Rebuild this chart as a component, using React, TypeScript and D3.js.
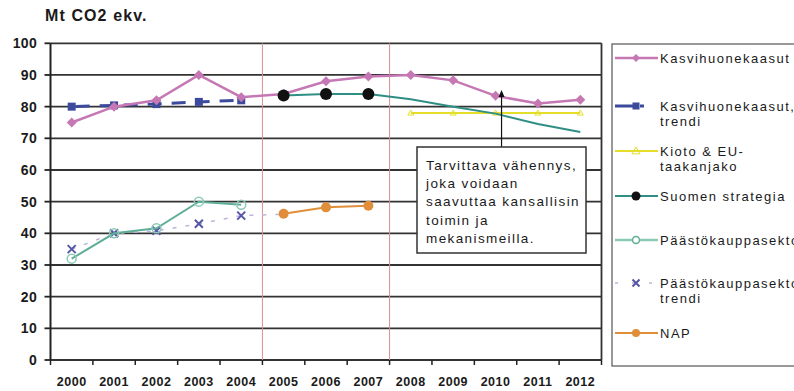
import React from "react";
import * as d3 from "d3";

// Emission data, Mt CO2 ekv.
const years = ["2000", "2001", "2002", "2003", "2004", "2005", "2006", "2007", "2008", "2009", "2010", "2011", "2012"];
const yTicks = [0, 10, 20, 30, 40, 50, 60, 70, 80, 90, 100];

const kasvihuoneYears = years;
const kasvihuoneValues = [75, 80, 82, 90, 83, 84, 88, 89.5, 90, 88.3, 83.4, 81, 82.2];

const trendiYears = ["2000", "2001", "2002", "2003", "2004"];
const trendiValues = [80, 80.4, 80.8, 81.5, 82];

const kiotoYears = ["2008", "2009", "2010", "2011", "2012"];
const kiotoValues = [78, 78, 78, 78, 78];

const strategiaYears = ["2005", "2006", "2007", "2008", "2009", "2010", "2011", "2012"];
const strategiaValues = [83.5, 84, 84, 82.3, 80, 77.8, 74.5, 72];
const strategiaMarkerYears = ["2005", "2006", "2007"];

const paastoYears = ["2000", "2001", "2002", "2003", "2004"];
const paastoValues = [32, 40, 41.6, 50, 49];

const paastoTrendiYears = ["2000", "2001", "2002", "2003", "2004", "2005"];
const paastoTrendiValues = [35, 40, 40.8, 43, 45.6, 46];

const napYears = ["2005", "2006", "2007"];
const napValues = [46.2, 48.2, 48.7];

const periodBoundaries = ["2005", "2008"];
const reductionYear = "2010";

const annotationLines = [
  "Tarvittava vähennys,",
  "joka voidaan",
  "saavuttaa kansallisin",
  "toimin ja",
  "mekanismeilla.",
];

const COLORS = {
  kasvihuone: "#c678b4",
  trendi: "#3b4a9c",
  kioto: "#e4de2a",
  strategia: "#2f8f84",
  strategiaDot: "#111111",
  paasto: "#5fae98",
  paastoMarker: "#8ccab6",
  paastoTrendi: "#bdb4dc",
  paastoTrendiMarker: "#5656a6",
  nap: "#e08e3a",
  grid: "#333333",
  period: "#d89090",
};

const FONT = "'Liberation Sans', Arial, sans-serif";

const W = 794;
const H = 391;
const plot = { left: 50.5, right: 601.5, top: 43.3, bottom: 360 };

const x = d3.scaleBand<string>().domain(years).range([plot.left, plot.right]).padding(0);
const y = d3.scaleLinear().domain([0, 100]).range([plot.bottom, plot.top]);
const cx = (yr: string) => (x(yr) as number) + x.bandwidth() / 2;

const lineGen = d3
  .line<[string, number]>()
  .x((d) => cx(d[0]))
  .y((d) => y(d[1]));

const zip = (ys: string[], vs: number[]) => ys.map((yr, i) => [yr, vs[i]] as [string, number]);

function Diamond({ x0, y0, s, fill }: { x0: number; y0: number; s: number; fill: string }) {
  return <path d={`M${x0},${y0 - s}L${x0 + s},${y0}L${x0},${y0 + s}L${x0 - s},${y0}Z`} fill={fill} />;
}

function Cross({ x0, y0, s, stroke }: { x0: number; y0: number; s: number; stroke: string }) {
  return (
    <path
      d={`M${x0 - s},${y0 - s}L${x0 + s},${y0 + s}M${x0 + s},${y0 - s}L${x0 - s},${y0 + s}`}
      stroke={stroke}
      strokeWidth={2}
    />
  );
}

function Triangle({ x0, y0, s, stroke }: { x0: number; y0: number; s: number; stroke: string }) {
  return (
    <path
      d={`M${x0},${y0 - s}L${x0 + s},${y0 + s * 0.7}L${x0 - s},${y0 + s * 0.7}Z`}
      fill="none"
      stroke={stroke}
      strokeWidth={1}
    />
  );
}

type LegendItem = { lines: string[]; y: number; kind: string };
const legendItems: LegendItem[] = [
  { lines: ["Kasvihuonekaasut"], y: 58, kind: "kasvihuone" },
  { lines: ["Kasvihuonekaasut,", "trendi"], y: 106, kind: "trendi" },
  { lines: ["Kioto & EU-", "taakanjako"], y: 151, kind: "kioto" },
  { lines: ["Suomen strategia"], y: 196, kind: "strategia" },
  { lines: ["Päästökauppasektori"], y: 240, kind: "paasto" },
  { lines: ["Päästökauppasektori", "trendi"], y: 283, kind: "paastoTrendi" },
  { lines: ["NAP"], y: 333, kind: "nap" },
];

function LegendSymbol({ kind, ly }: { kind: string; ly: number }) {
  const x1 = 615;
  const x2 = 658;
  const mx = 636;
  switch (kind) {
    case "kasvihuone":
      return (
        <g>
          <line x1={x1} x2={x2} y1={ly} y2={ly} stroke={COLORS.kasvihuone} strokeWidth={2.5} />
          <Diamond x0={mx} y0={ly} s={4} fill={COLORS.kasvihuone} />
        </g>
      );
    case "trendi":
      return (
        <g>
          <line x1={x1} x2={x2} y1={ly} y2={ly} stroke={COLORS.trendi} strokeWidth={3} strokeDasharray="20,5,4,20" />
          <rect x={mx - 3.5} y={ly - 3.5} width={7} height={7} fill={COLORS.trendi} />
        </g>
      );
    case "kioto":
      return (
        <g>
          <line x1={x1} x2={x2} y1={ly} y2={ly} stroke={COLORS.kioto} strokeWidth={2} />
          <Triangle x0={mx} y0={ly} s={4} stroke={COLORS.kioto} />
        </g>
      );
    case "strategia":
      return (
        <g>
          <line x1={x1} x2={x2} y1={ly} y2={ly} stroke={COLORS.strategia} strokeWidth={2} />
          <circle cx={mx} cy={ly} r={4.5} fill={COLORS.strategiaDot} />
        </g>
      );
    case "paasto":
      return (
        <g>
          <line x1={x1} x2={x2} y1={ly} y2={ly} stroke={COLORS.paastoMarker} strokeWidth={2.5} />
          <circle cx={mx} cy={ly} r={3.5} fill="#ffffff" stroke={COLORS.paasto} strokeWidth={1.5} />
        </g>
      );
    case "paastoTrendi":
      return (
        <g>
          <line x1={x1} x2={x2} y1={ly} y2={ly} stroke={COLORS.paastoTrendi} strokeWidth={1.5} strokeDasharray="3,14" />
          <Cross x0={mx} y0={ly} s={3.5} stroke={COLORS.paastoTrendiMarker} />
        </g>
      );
    default:
      return (
        <g>
          <line x1={x1} x2={x2} y1={ly} y2={ly} stroke={COLORS.nap} strokeWidth={2} />
          <circle cx={mx} cy={ly} r={4} fill={COLORS.nap} />
        </g>
      );
  }
}

export default function App() {
  const reductionX = cx(reductionYear) + 6;
  const reductionTop = y(kasvihuoneValues[years.indexOf(reductionYear)] + 1.2);
  const box = { x: 417, y: 147, w: 169, h: 106 };

  return (
    <svg
      width={W}
      height={H}
      viewBox={`0 0 ${W} ${H}`}
      style={{ position: "absolute", left: 0, top: 0, background: "#ffffff" }}
      fontFamily={FONT}
    >
      <rect width={W} height={H} fill="#ffffff" />

      {/* unit title */}
      <text x={45} y={21} fontSize={16} fontWeight="bold" letterSpacing={1.1} fill="#1a1a1a">
        Mt CO2 ekv.
      </text>

      {/* horizontal gridlines */}
      {yTicks.map((t) => (
        <line key={t} x1={plot.left} x2={plot.right} y1={y(t)} y2={y(t)} stroke={COLORS.grid} strokeWidth={1.8} />
      ))}
      {/* right border */}
      <line x1={plot.right} x2={plot.right} y1={plot.top} y2={plot.bottom} stroke={COLORS.grid} strokeWidth={1.8} />

      {/* period separators */}
      {periodBoundaries.map((yr) => (
        <line
          key={yr}
          x1={x(yr) as number}
          x2={x(yr) as number}
          y1={plot.top}
          y2={plot.bottom}
          stroke={COLORS.period}
          strokeWidth={1}
        />
      ))}

      {/* y axis */}
      <line x1={plot.left} x2={plot.left} y1={plot.top} y2={plot.bottom} stroke="#222" strokeWidth={2} />
      {yTicks.map((t) => (
        <g key={t}>
          <line x1={plot.left - 6} x2={plot.left} y1={y(t)} y2={y(t)} stroke="#222" strokeWidth={1.8} />
          <text
            x={37}
            y={y(t)}
            dy="0.36em"
            textAnchor="end"
            fontSize={14}
            fontWeight="bold"
            letterSpacing={0.3}
            fill="#1a1a1a"
          >
            {t}
          </text>
        </g>
      ))}

      {/* x axis */}
      {years.map((yr) => (
        <line
          key={yr}
          x1={x(yr) as number}
          x2={x(yr) as number}
          y1={plot.bottom}
          y2={plot.bottom + 5}
          stroke="#222"
          strokeWidth={1.5}
        />
      ))}
      <line x1={plot.right} x2={plot.right} y1={plot.bottom} y2={plot.bottom + 5} stroke="#222" strokeWidth={1.5} />
      {years.map((yr) => (
        <text
          key={yr}
          x={cx(yr)}
          y={386}
          textAnchor="middle"
          fontSize={12.5}
          fontWeight="bold"
          letterSpacing={0.5}
          fill="#1a1a1a"
        >
          {yr}
        </text>
      ))}

      {/* Kioto & EU-taakanjako */}
      <path d={lineGen(zip(kiotoYears, kiotoValues)) || ""} fill="none" stroke={COLORS.kioto} strokeWidth={2} />
      {kiotoYears.map((yr, i) => (
        <Triangle key={yr} x0={cx(yr)} y0={y(kiotoValues[i])} s={3} stroke={COLORS.kioto} />
      ))}

      {/* Suomen strategia */}
      <path
        d={lineGen(zip(strategiaYears, strategiaValues)) || ""}
        fill="none"
        stroke={COLORS.strategia}
        strokeWidth={2}
      />

      {/* Kasvihuonekaasut, trendi */}
      <path
        d={lineGen(zip(trendiYears, trendiValues)) || ""}
        fill="none"
        stroke={COLORS.trendi}
        strokeWidth={3}
        strokeDasharray="14,10"
        strokeDashoffset={-4}
      />
      {trendiYears.map((yr, i) => (
        <rect key={yr} x={cx(yr) - 4} y={y(trendiValues[i]) - 4} width={8} height={8} fill={COLORS.trendi} />
      ))}

      {/* Kasvihuonekaasut */}
      <path
        d={lineGen(zip(kasvihuoneYears, kasvihuoneValues)) || ""}
        fill="none"
        stroke={COLORS.kasvihuone}
        strokeWidth={2.5}
      />
      {kasvihuoneYears.map((yr, i) => (
        <Diamond key={yr} x0={cx(yr)} y0={y(kasvihuoneValues[i])} s={5} fill={COLORS.kasvihuone} />
      ))}

      {/* Suomen strategia markers */}
      {strategiaMarkerYears.map((yr) => (
        <circle
          key={yr}
          cx={cx(yr)}
          cy={y(strategiaValues[strategiaYears.indexOf(yr)])}
          r={6}
          fill={COLORS.strategiaDot}
        />
      ))}

      {/* Päästökauppasektori, trendi */}
      <path
        d={lineGen(zip(paastoTrendiYears, paastoTrendiValues)) || ""}
        fill="none"
        stroke={COLORS.paastoTrendi}
        strokeWidth={1.5}
        strokeDasharray="4,9"
      />
      {paastoTrendiYears.slice(0, -1).map((yr, i) => (
        <Cross key={yr} x0={cx(yr)} y0={y(paastoTrendiValues[i])} s={4} stroke={COLORS.paastoTrendiMarker} />
      ))}

      {/* Päästökauppasektori */}
      <path d={lineGen(zip(paastoYears, paastoValues)) || ""} fill="none" stroke={COLORS.paasto} strokeWidth={2} />
      {paastoYears.map((yr, i) => (
        <circle
          key={yr}
          cx={cx(yr)}
          cy={y(paastoValues[i])}
          r={4.5}
          fill="none"
          stroke={COLORS.paastoMarker}
          strokeWidth={1.5}
        />
      ))}

      {/* NAP */}
      <path d={lineGen(zip(napYears, napValues)) || ""} fill="none" stroke={COLORS.nap} strokeWidth={2} />
      {napYears.map((yr, i) => (
        <circle key={yr} cx={cx(yr)} cy={y(napValues[i])} r={5} fill={COLORS.nap} />
      ))}

      {/* required reduction annotation */}
      <line x1={reductionX} x2={reductionX} y1={reductionTop} y2={box.y} stroke="#111" strokeWidth={1.2} />
      <path
        d={`M${reductionX},${reductionTop - 2}L${reductionX + 3},${reductionTop + 5}L${reductionX - 3},${reductionTop + 5}Z`}
        fill="#111"
      />
      <rect x={box.x} y={box.y} width={box.w} height={box.h} fill="#ffffff" stroke="#333" strokeWidth={1.5} />
      {annotationLines.map((t, i) => (
        <text key={i} x={426} y={170 + i * 18.2} fontSize={13.5} letterSpacing={1.4} fill="#1a1a1a">
          {t}
        </text>
      ))}

      {/* legend */}
      <rect x={612} y={44} width={200} height={322} fill="#ffffff" stroke="#555" strokeWidth={1.2} />
      {legendItems.map((item) => (
        <g key={item.kind}>
          <LegendSymbol kind={item.kind} ly={item.y} />
          {item.lines.map((t, i) => (
            <text key={i} x={660} y={item.y + 4.5 + i * 15} fontSize={13} letterSpacing={1.5} fill="#1a1a1a">
              {t}
            </text>
          ))}
        </g>
      ))}
    </svg>
  );
}
